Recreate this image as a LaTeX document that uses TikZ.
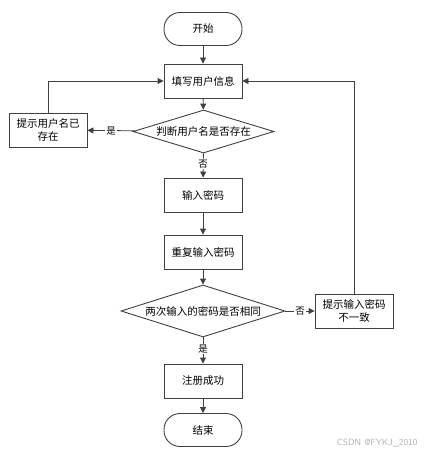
\documentclass[tikz,border=0pt]{standalone}
\usepackage{fontspec}
\newfontfamily\cjk{Noto Sans CJK SC}
\usetikzlibrary{shapes.geometric,arrows.meta}
\definecolor{ln}{HTML}{404040}
\tikzset{
  base/.style={draw=ln, line width=0.9pt, font=\cjk\fontsize{10.5}{13}\selectfont, text=black, align=center, inner sep=1pt},
  term/.style={base, rounded corners=16pt, minimum width=78pt, minimum height=33pt},
  proc/.style={base, minimum width=78pt, minimum height=34pt},
  dec/.style={base, diamond, aspect=3.3, inner sep=0pt},
  conn/.style={draw=ln, line width=0.9pt, -{Triangle[length=6pt,width=6pt]}},
  lab/.style={font=\cjk\fontsize{9.5}{11}\selectfont, fill=white, inner sep=1pt}
}
\begin{document}
\begin{tikzpicture}[x=1pt,y=-1pt]
\useasboundingbox (0,0) rectangle (425,454);
\node[term] (start) at (203,29) {开始};
\node[proc] (fill) at (203,81) {填写用户信息};
\node[dec, minimum width=141pt, minimum height=43pt] (chk) at (203.5,131.5) {判断用户名是否存在};
\node[proc] (exist) at (48,130) {提示用户名已\\存在};
\node[proc] (pwd) at (203,195) {输入密码};
\node[proc] (rep) at (203,252) {重复输入密码};
\node[dec, minimum width=164pt, minimum height=52pt] (same) at (203,311) {两次输入的密码是否相同};
\node[proc] (diff) at (354,311) {提示输入密码\\不一致};
\node[proc] (ok) at (203,381) {注册成功};
\node[term] (end) at (203,430) {结束};
\node[font=\sffamily\fontsize{9}{10}\selectfont, text=black!30, anchor=east] (wm) at (421,443) {CSDN @FYKJ\_2010};

\draw[conn] (start) -- (fill);
\draw[conn] (fill) -- (chk);
\draw[conn] (chk) -- node[lab] {是} (exist);
\draw[conn] (exist.north) |- (fill.west);
\draw[conn] (chk) -- node[lab, pos=0.45] {否} (pwd);
\draw[conn] (pwd) -- (rep);
\draw[conn] (rep) -- (same);
\draw[conn] (same) -- node[lab] {否} (diff);
\draw[conn] (diff.north) |- (fill.east);
\draw[conn] (same) -- node[lab, pos=0.45] {是} (ok);
\draw[conn] (ok) -- (end);
\end{tikzpicture}
\end{document}
